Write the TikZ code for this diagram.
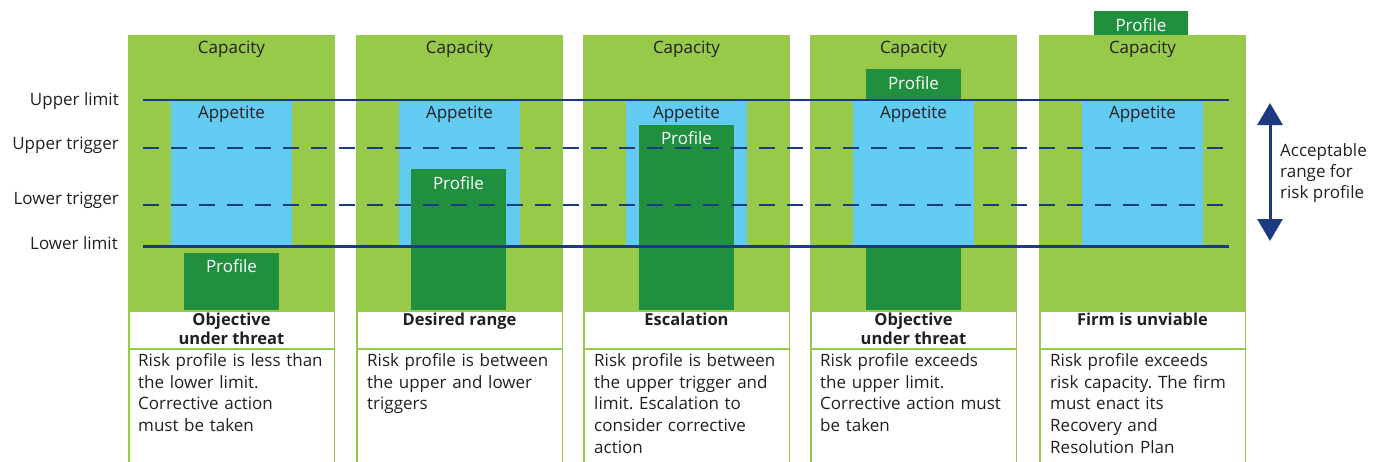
\documentclass[tikz,border=0pt]{standalone}
\usepackage{fontspec}
\setmainfont{Open Sans}
\frenchspacing
\usetikzlibrary{arrows.meta}
\definecolor{capc}{RGB}{151,201,74}
\definecolor{appc}{RGB}{98,203,241}
\definecolor{profc}{RGB}{33,144,62}
\definecolor{navyc}{RGB}{27,58,128}
\definecolor{txtc}{RGB}{35,31,32}
\begin{document}
\begin{tikzpicture}[x=1pt,y=-1pt,
  captxt/.style={text=txtc,font=\fontsize{17}{18}\selectfont,inner sep=0},
  proftxt/.style={text=white,font=\fontsize{17}{18}\selectfont,inner sep=0},
  sidetxt/.style={text=txtc,font=\fontsize{17}{18}\selectfont,inner sep=0,anchor=east},
  titletxt/.style={text=txtc,font=\bfseries\fontsize{16.5}{18.5}\selectfont,inner sep=0,anchor=north,align=center},
  desctxt/.style={text=txtc,font=\fontsize{17}{21.8}\selectfont,inner sep=0,anchor=north west,align=left,text width=200pt},
  limitline/.style={draw=navyc,line width=2.6pt},
  trigline/.style={draw=navyc,line width=2.6pt,dash pattern=on 16pt off 12pt},
  boxline/.style={draw=capc,line width=1.5pt}]
\useasboundingbox (0,0) rectangle (1373,461);
% columns
\foreach \i/\L in {1/128,2/356,3/583,4/810,5/1039}{
  \fill[capc] (\L,35) rectangle ++(207,275);
}
% profile in column 4 (behind appetite)
\fill[profc] (866,69) rectangle (961,310);
\foreach \i/\L in {1/128,2/356,3/583,4/810,5/1039}{
  \fill[appc] (\L+43,100) rectangle ++(121,146);
  \node[captxt] (cap\i) at (\L+103.5,49.5) {Capacity};
  \node[captxt] (app\i) at (\L+103.5,114.5) {Appetite};
  \draw[boxline] (\L+0.75,311) rectangle (\L+206.25,490);
  \draw[boxline] (\L+0.75,349) -- (\L+206.25,349);
}
% other profiles
\fill[profc] (184,253) rectangle (279,310);
\fill[profc] (411,169) rectangle (506,310);
\fill[profc] (639,125) rectangle (734,310);
\fill[profc] (1094,11) rectangle (1188,35);
\node[proftxt] (prof1) at (231.5,266.5) {Profile};
\node[proftxt] (prof2) at (458.5,183.5) {Profile};
\node[proftxt] (prof3) at (686.5,138.5) {Profile};
\node[proftxt] (prof4) at (913.5,83.5) {Profile};
\node[proftxt] (prof5) at (1141,25) {Profile};
% limit lines
\coordinate (ulA) at (143,100); \coordinate (ulB) at (1229,100);
\coordinate (utA) at (143,148); \coordinate (utB) at (1229,148);
\coordinate (ltA) at (143,205); \coordinate (ltB) at (1229,205);
\coordinate (llA) at (143,246.5); \coordinate (llB) at (1229,246.5);
\draw[limitline] (ulA) -- (ulB);
\draw[limitline] (llA) -- (llB);
\draw[trigline] (utA) -- (utB);
\draw[trigline] (ltA) -- (ltB);
% side labels
\node[sidetxt] (lab1) at (119,101.5) {Upper limit};
\node[sidetxt] (lab2) at (119,145.5) {Upper trigger};
\node[sidetxt] (lab3) at (119,200.5) {Lower trigger};
\node[sidetxt] (lab4) at (118,243.5) {Lower limit};
% arrow
\coordinate (arT) at (1270,103);
\coordinate (arB) at (1270,241);
\draw[draw=navyc,fill=navyc,line width=3pt,{Triangle[width=25pt,length=22pt]}-{Triangle[width=25pt,length=22pt]}] (arT) -- (arB);
\node[text=txtc,font=\fontsize{17}{21}\selectfont,inner sep=0,anchor=north west,align=left] (acc) at (1280,143) {Acceptable\\range for\\risk profile};
% titles
\node[titletxt] (t1) at (231.5,313) {Objective\\under threat};
\node[titletxt] (t2) at (459.5,313) {Desired range};
\node[titletxt] (t3) at (686.5,313) {Escalation};
\node[titletxt] (t4) at (913.5,313) {Objective\\under threat};
\node[titletxt] (t5) at (1142.5,313) {Firm is unviable};
% descriptions
\node[desctxt] (d1) at (138,353) {Risk profile is less than\\the lower limit.\\Corrective action\\must be taken};
\node[desctxt] (d2) at (367,353) {Risk profile is between\\the upper and lower\\triggers};
\node[desctxt] (d3) at (594,353) {Risk profile is between\\the upper trigger and\\limit. Escalation to\\consider corrective\\action};
\node[desctxt] (d4) at (820,353) {Risk profile exceeds\\the upper limit.\\Corrective action must\\be taken};
\node[desctxt] (d5) at (1050,353) {Risk profile exceeds\\risk capacity. The firm\\must enact its\\Recovery and\\Resolution Plan};
\end{tikzpicture}
\end{document}
